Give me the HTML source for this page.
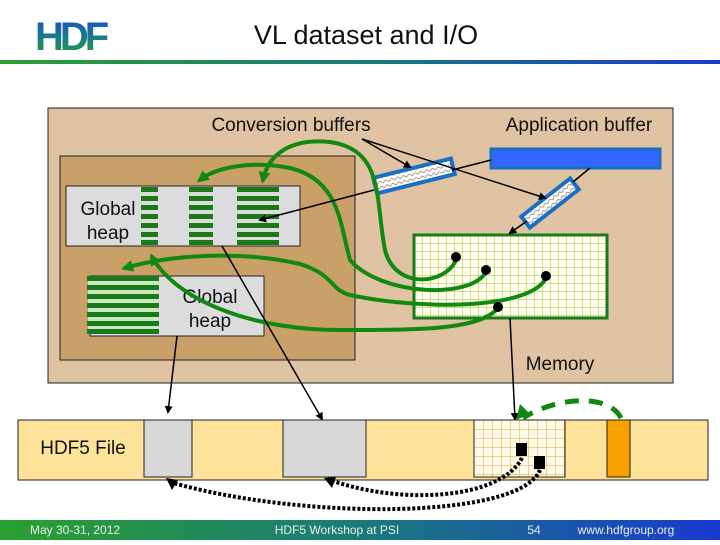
<!DOCTYPE html>
<html><head><meta charset="utf-8"><style>
body{margin:0;width:720px;height:540px;overflow:hidden;background:#fff;font-family:"Liberation Sans",sans-serif}
</style></head><body>
<svg width="720" height="540" viewBox="0 0 720 540" xmlns="http://www.w3.org/2000/svg" font-family="Liberation Sans, sans-serif">
<defs>
<linearGradient id="hg" x1="0" x2="1" y1="0" y2="0"><stop offset="0" stop-color="#2aa030"/><stop offset="0.5" stop-color="#1a7a7a"/><stop offset="1" stop-color="#1a3ad0"/></linearGradient>
<linearGradient id="lg" x1="0" x2="0" y1="0" y2="1"><stop offset="0" stop-color="#1a4ad8"/><stop offset="0.5" stop-color="#1a7a8a"/><stop offset="1" stop-color="#2aa030"/></linearGradient>
<pattern id="mg" width="8" height="8" patternUnits="userSpaceOnUse" x="414" y="235"><rect width="8" height="8" fill="#fffff0"/><path d="M0 0H8M0 0V8" stroke="#a8b830" stroke-width="1"/></pattern>
<pattern id="fg" width="9" height="9" patternUnits="userSpaceOnUse" x="474" y="420"><rect width="9" height="9" fill="#fffbe8"/><path d="M0 0H9M0 0V9" stroke="#e0a040" stroke-width="1"/></pattern>
<pattern id="sq" width="6" height="5" patternUnits="userSpaceOnUse"><rect width="6" height="5" fill="#fff"/><path d="M0 3 Q1.5 1 3 3 T6 3" stroke="#8a7a6a" fill="none" stroke-width="0.8"/></pattern>
<marker id="ab" markerWidth="8" markerHeight="8" refX="6" refY="4" orient="auto" markerUnits="userSpaceOnUse"><path d="M0 0L8 4L0 8z" fill="#000"/></marker>
<marker id="ag" markerWidth="12" markerHeight="12" refX="8" refY="6" orient="auto" markerUnits="userSpaceOnUse"><path d="M0 0L12 6L0 12z" fill="#118811"/></marker>
</defs>
<!-- header -->
<text x="35" y="50" font-size="40" font-weight="bold" fill="url(#lg)" letter-spacing="-4">HDF</text>
<text x="366" y="44" font-size="27" text-anchor="middle" fill="#111">VL dataset and I/O</text>
<rect x="0" y="60" width="720" height="4" fill="url(#hg)"/>
<!-- outer boxes -->
<rect x="48" y="108" width="625" height="275" fill="#dfc3a3" stroke="#222" stroke-width="1"/>
<rect x="60" y="156" width="295" height="204" fill="#c9a06a" stroke="#222" stroke-width="1"/>
<text x="291" y="131" font-size="19" text-anchor="middle" fill="#111">Conversion  buffers</text>
<text x="579" y="131" font-size="19" text-anchor="middle" fill="#111">Application buffer</text>
<!-- heap 1 -->
<rect x="66" y="186" width="234" height="60" fill="#dcdcdc" stroke="#222"/>
<text x="108" y="215" font-size="19" text-anchor="middle" fill="#111">Global</text>
<text x="108" y="239" font-size="19" text-anchor="middle" fill="#111">heap</text>
<g fill="#1a7a1a">
<rect x="141" y="187" width="17" height="5"/><rect x="141" y="196" width="17" height="5"/><rect x="141" y="205" width="17" height="5"/><rect x="141" y="214" width="17" height="5"/><rect x="141" y="223" width="17" height="5"/><rect x="141" y="232" width="17" height="5"/><rect x="141" y="240" width="17" height="5"/>
<rect x="189" y="187" width="24" height="5"/><rect x="189" y="196" width="24" height="5"/><rect x="189" y="205" width="24" height="5"/><rect x="189" y="214" width="24" height="5"/><rect x="189" y="223" width="24" height="5"/><rect x="189" y="232" width="24" height="5"/><rect x="189" y="240" width="24" height="5"/>
<rect x="237" y="187" width="42" height="5"/><rect x="237" y="196" width="42" height="5"/><rect x="237" y="205" width="42" height="5"/><rect x="237" y="214" width="42" height="5"/><rect x="237" y="223" width="42" height="5"/><rect x="237" y="232" width="42" height="5"/><rect x="237" y="240" width="42" height="5"/>
</g>
<!-- heap 2 -->
<rect x="90" y="276" width="174" height="60" fill="#dcdcdc" stroke="#222"/>
<rect x="88" y="277" width="71" height="57" fill="#c8e8c0"/>
<g fill="#1a7a1a">
<rect x="87" y="276" width="72" height="5"/><rect x="87" y="285" width="72" height="5"/><rect x="87" y="294" width="72" height="5"/><rect x="87" y="303" width="72" height="5"/><rect x="87" y="312" width="72" height="5"/><rect x="87" y="321" width="72" height="5"/><rect x="87" y="329" width="72" height="5"/>
</g>
<text x="210" y="303" font-size="19" text-anchor="middle" fill="#111">Global</text>
<text x="210" y="327" font-size="19" text-anchor="middle" fill="#111">heap</text>
<!-- app buffer -->
<rect x="491" y="149" width="169" height="19" fill="#3366ff" stroke="#1a6fc4" stroke-width="3"/>
<!-- conversion buffers -->
<rect x="-40" y="-8" width="80" height="16" transform="translate(414,176) rotate(-14)" fill="url(#sq)" stroke="#1a6fc4" stroke-width="4"/>
<rect x="-31" y="-7" width="62" height="14" transform="translate(550,203) rotate(-38)" fill="url(#sq)" stroke="#1a6fc4" stroke-width="4"/>
<!-- memory -->
<rect x="414" y="235" width="193" height="83" fill="url(#mg)" stroke="#1a7a1a" stroke-width="3"/>
<text x="560" y="370" font-size="19" text-anchor="middle" fill="#111">Memory</text>
<!-- green curves -->
<g fill="none" stroke="#118811" stroke-width="4" stroke-linecap="round">
<path d="M456 260 C445 285 395 290 385 250 C375 200 385 150 330 142 C290 138 268 155 263 180" marker-end="url(#ag)"/>
<path d="M486 272 C470 300 380 295 350 260 C340 225 340 180 290 168 C250 160 215 168 200 180" marker-end="url(#ag)"/>
<path d="M546 278 C530 310 420 310 350 295 C330 290 335 275 300 264 C240 250 170 255 125 268" marker-end="url(#ag)"/>
<path d="M498 308 C480 330 420 330 340 330 C260 330 180 305 152 257" marker-end="url(#ag)"/>
</g>
<g fill="#000">
<circle cx="456" cy="257" r="5"/><circle cx="486" cy="270" r="5"/><circle cx="546" cy="276" r="5"/><circle cx="498" cy="307" r="5"/>
</g>
<!-- black lines -->
<g stroke="#000" stroke-width="1.5" fill="none">
<line x1="362" y1="139" x2="410" y2="167" marker-end="url(#ab)"/>
<line x1="362" y1="139" x2="545" y2="198" marker-end="url(#ab)"/>
<line x1="491" y1="160" x2="452" y2="170"/>
<line x1="590" y1="168" x2="573" y2="182"/>
<line x1="527" y1="221" x2="510" y2="233" marker-end="url(#ab)"/>
<line x1="374" y1="190" x2="260" y2="220" marker-end="url(#ab)"/>
<line x1="222" y1="246" x2="322" y2="419" marker-end="url(#ab)"/>
<line x1="177" y1="336" x2="168" y2="412" marker-end="url(#ab)"/>
<line x1="510" y1="318" x2="515" y2="419" marker-end="url(#ab)"/>
</g>
<!-- file strip -->
<rect x="18" y="420" width="690" height="60" fill="#fde39a" stroke="#222"/>
<text x="83" y="454" font-size="19" text-anchor="middle" fill="#111">HDF5 File</text>
<rect x="144" y="420" width="48" height="57" fill="#d8d8d8" stroke="#222"/>
<rect x="283" y="420" width="83" height="57" fill="#d8d8d8" stroke="#222"/>
<rect x="474" y="420" width="91" height="57" fill="url(#fg)" stroke="#222"/>
<rect x="607" y="420" width="23" height="57" fill="#f7a000" stroke="#222"/>
<rect x="516" y="443" width="11" height="13" fill="#000"/>
<rect x="534" y="456" width="11" height="13" fill="#000"/>
<!-- green dashed arc -->
<path d="M621 418 C610 395 560 395 523 418" fill="none" stroke="#118811" stroke-width="5" stroke-dasharray="14 10"/>
<path d="M516 420 L520 404 L530 414z" fill="#118811"/>
<!-- dotted arcs -->
<g fill="none" stroke="#000" stroke-width="4" stroke-dasharray="3 2">
<path d="M522 458 C500 500 400 505 330 480"/>
<path d="M540 470 C520 520 300 520 170 482"/>
</g>
<path d="M324 478 L336 477 L332 488z" fill="#000"/>
<path d="M166 478 L178 480 L172 490z" fill="#000"/>
<!-- footer -->
<rect x="0" y="520" width="720" height="20" fill="url(#hg)"/>
<g font-size="12" fill="#e8f0e8">
<text x="30" y="534">May 30-31, 2012</text>
<text x="337" y="534" text-anchor="middle">HDF5 Workshop at PSI</text>
<text x="534" y="534" text-anchor="middle">54</text>
<text x="626" y="534" text-anchor="middle">www.hdfgroup.org</text>
</g>
</svg>
</body></html>
